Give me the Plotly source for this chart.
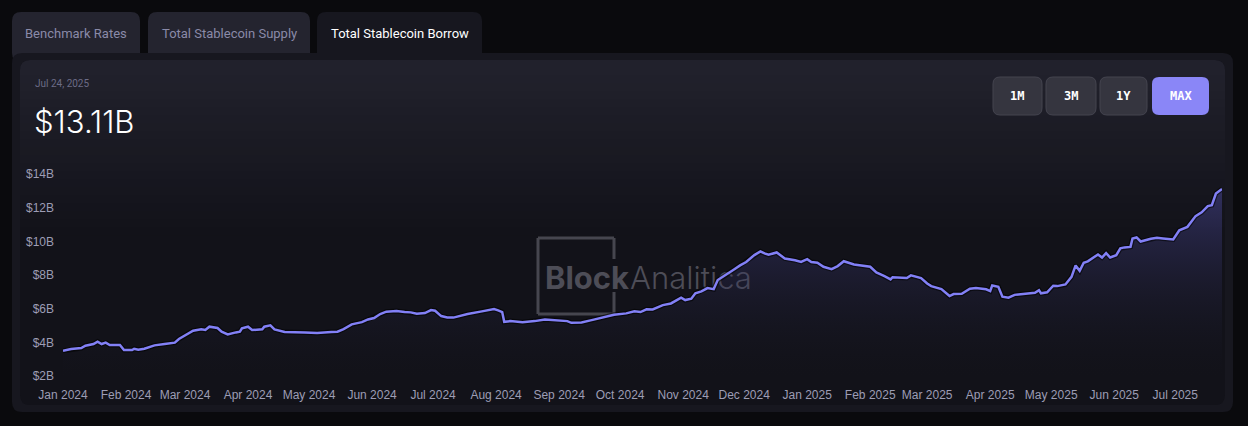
import plotly.graph_objects as go

# total stablecoin borrow, $ billions
dates = [
    "2024-01-01", "2024-01-05", "2024-01-10", "2024-01-12", "2024-01-16", "2024-01-18",
    "2024-01-20", "2024-01-22", "2024-01-24", "2024-01-29", "2024-01-31", "2024-02-04",
    "2024-02-05", "2024-02-07", "2024-02-10", "2024-02-15", "2024-02-20", "2024-02-25",
    "2024-02-27", "2024-03-01", "2024-03-05", "2024-03-09", "2024-03-11", "2024-03-13",
    "2024-03-17", "2024-03-19", "2024-03-22", "2024-03-26", "2024-03-28", "2024-03-29",
    "2024-04-01", "2024-04-03", "2024-04-08", "2024-04-09", "2024-04-12", "2024-04-14",
    "2024-04-16", "2024-04-19", "2024-04-29", "2024-05-05", "2024-05-12", "2024-05-15",
    "2024-05-18", "2024-05-22", "2024-05-27", "2024-05-30", "2024-06-02", "2024-06-05",
    "2024-06-08", "2024-06-13", "2024-06-17", "2024-06-20", "2024-06-23", "2024-06-27",
    "2024-06-30", "2024-07-02", "2024-07-05", "2024-07-08", "2024-07-11", "2024-07-18",
    "2024-07-25", "2024-07-28", "2024-07-31", "2024-08-02", "2024-08-04", "2024-08-05",
    "2024-08-08", "2024-08-14", "2024-08-20", "2024-08-25", "2024-08-30", "2024-09-05",
    "2024-09-07", "2024-09-12", "2024-09-17", "2024-09-22", "2024-09-28", "2024-10-04",
    "2024-10-08", "2024-10-11", "2024-10-14", "2024-10-17", "2024-10-22", "2024-10-26",
    "2024-10-31", "2024-11-02", "2024-11-05", "2024-11-07", "2024-11-10", "2024-11-13",
    "2024-11-16", "2024-11-18", "2024-11-22", "2024-11-26", "2024-11-29", "2024-12-02",
    "2024-12-06", "2024-12-09", "2024-12-11", "2024-12-13", "2024-12-17", "2024-12-21",
    "2024-12-26", "2024-12-29", "2025-01-01", "2025-01-03", "2025-01-06", "2025-01-09",
    "2025-01-13", "2025-01-16", "2025-01-19", "2025-01-22", "2025-01-24", "2025-02-01",
    "2025-02-04", "2025-02-08", "2025-02-11", "2025-02-12", "2025-02-19", "2025-02-21",
    "2025-02-26", "2025-03-01", "2025-03-03", "2025-03-08", "2025-03-12", "2025-03-14",
    "2025-03-18", "2025-03-22", "2025-03-25", "2025-03-30", "2025-04-01", "2025-04-02",
    "2025-04-05", "2025-04-07", "2025-04-10", "2025-04-13", "2025-04-18", "2025-04-23",
    "2025-04-25", "2025-04-26", "2025-04-29", "2025-05-02", "2025-05-04", "2025-05-08",
    "2025-05-11", "2025-05-13", "2025-05-15", "2025-05-17", "2025-05-19", "2025-05-21",
    "2025-05-24", "2025-05-26", "2025-05-28", "2025-05-30", "2025-06-02", "2025-06-04",
    "2025-06-06", "2025-06-09", "2025-06-10", "2025-06-12", "2025-06-14", "2025-06-19",
    "2025-06-22", "2025-06-25", "2025-06-30", "2025-07-03", "2025-07-07", "2025-07-11",
    "2025-07-14", "2025-07-17", "2025-07-19", "2025-07-21", "2025-07-24",
]
borrow_b = [
    3.50, 3.60, 3.66, 3.80, 3.90, 4.04,
    3.90, 3.98, 3.84, 3.84, 3.54, 3.54,
    3.62, 3.56, 3.62, 3.82, 3.90, 3.98,
    4.20, 4.43, 4.69, 4.77, 4.73, 4.93,
    4.85, 4.63, 4.47, 4.59, 4.63, 4.83,
    4.93, 4.73, 4.77, 4.93, 5.01, 4.77,
    4.69, 4.61, 4.59, 4.55, 4.61, 4.63,
    4.79, 5.07, 5.20, 5.36, 5.44, 5.68,
    5.82, 5.86, 5.80, 5.78, 5.70, 5.74,
    5.92, 5.88, 5.56, 5.48, 5.47, 5.68,
    5.84, 5.92, 5.98, 5.90, 5.80, 5.22,
    5.26, 5.20, 5.26, 5.36, 5.32, 5.26,
    5.16, 5.18, 5.32, 5.48, 5.64, 5.72,
    5.84, 5.80, 5.96, 5.95, 6.21, 6.31,
    6.65, 6.51, 6.59, 6.91, 7.03, 7.22,
    7.16, 7.70, 7.99, 8.33, 8.57, 8.77,
    9.18, 9.40, 9.28, 9.20, 9.34, 8.98,
    8.88, 8.78, 8.94, 8.77, 8.73, 8.49,
    8.35, 8.53, 8.82, 8.69, 8.62, 8.49,
    8.15, 7.93, 7.74, 7.87, 7.82, 7.98,
    7.82, 7.50, 7.34, 7.16, 6.75, 6.87,
    6.88, 7.18, 7.22, 7.15, 7.04, 7.38,
    7.30, 6.71, 6.65, 6.82, 6.87, 6.94,
    7.10, 6.91, 6.97, 7.36, 7.34, 7.44,
    7.89, 8.57, 8.25, 8.73, 8.81, 8.98,
    9.22, 9.04, 9.30, 9.04, 9.18, 9.58,
    9.64, 9.67, 10.17, 10.23, 9.99, 10.15,
    10.21, 10.17, 10.11, 10.66, 10.86, 11.50,
    11.72, 12.09, 12.15, 12.84, 13.11,
]

y_ticks = [2, 4, 6, 8, 10, 12, 14]
y_labels = ["$2B", "$4B", "$6B", "$8B", "$10B", "$12B", "$14B"]
tabs = ["Benchmark Rates", "Total Stablecoin Supply", "Total Stablecoin Borrow"]
range_buttons = ["1M", "3M", "1Y", "MAX"]
as_of = "Jul 24, 2025"

# page geometry in pixels; shapes/annotations are placed in paper units
W, H = 1248, 426
ML, MR, MT, MB = 63, 26, 174, 50
PW, PH = W - ML - MR, H - MT - MB


def px(x):
    return (x - ML) / PW


def py(y):
    return (H - MB - y) / PH


def rrect(x0, y0, x1, y1, r):
    return (f"M {px(x0 + r)},{py(y0)} L {px(x1 - r)},{py(y0)} "
            f"Q {px(x1)},{py(y0)} {px(x1)},{py(y0 + r)} L {px(x1)},{py(y1 - r)} "
            f"Q {px(x1)},{py(y1)} {px(x1 - r)},{py(y1)} L {px(x0 + r)},{py(y1)} "
            f"Q {px(x0)},{py(y1)} {px(x0)},{py(y1 - r)} L {px(x0)},{py(y0 + r)} "
            f"Q {px(x0)},{py(y0)} {px(x0 + r)},{py(y0)} Z")


def box(x0, y0, x1, y1, r, fill, line=None, layer="below"):
    return dict(type="path", path=rrect(x0, y0, x1, y1, r), xref="paper", yref="paper",
                fillcolor=fill, line=dict(color=line or fill, width=1 if line else 0),
                layer=layer)


def hex_mix(a, b, t):
    ca = [int(a[i:i + 2], 16) for i in (1, 3, 5)]
    cb = [int(b[i:i + 2], 16) for i in (1, 3, 5)]
    return "#" + "".join(f"{round(u + (v - u) * t):02x}" for u, v in zip(ca, cb))


PAGE = "#0a0a0d"
PANEL = "#17171f"
TAB_OFF = "#24242f"
CARD_TOP = "#21212c"
CARD_LOW = "#121219"
LINE = "#8280f6"
MUTED = "#8a8aa8"

shapes = []
# tabs
tab_x = [(12, 140), (148, 310), (317, 482)]
for i, (x0, x1) in enumerate(tab_x):
    shapes.append(box(x0, 12, x1, 62, 9, PANEL if i == 2 else TAB_OFF))
# outer panel
shapes.append(box(12, 53, 1233, 412, 10, PANEL))
# inner card with a soft top-down fade
shapes.append(box(20, 60, 1225, 405, 10, CARD_LOW))
shapes.append(box(20, 60, 1225, 90, 10, CARD_TOP))
steps = 20
for k in range(steps):
    y0 = 75 + k * 8
    shapes.append(dict(type="rect", xref="paper", yref="paper", x0=px(20), x1=px(1225),
                       y0=py(y0), y1=py(y0 + 8.5), fillcolor=hex_mix(CARD_TOP, CARD_LOW, (k + 1) / steps),
                       line=dict(width=0), layer="below"))

# range buttons
btn_x = [(993, 1042), (1046, 1096), (1100, 1147), (1152, 1209)]
for i, (x0, x1) in enumerate(btn_x):
    if range_buttons[i] == "MAX":
        shapes.append(box(x0, 77, x1, 115, 7, "#8a86f7", layer="above"))
    else:
        shapes.append(box(x0, 77, x1, 115, 7, "#35353f", "#44444f", layer="above"))

# watermark
WM = "#46464f"
for seg in [(538, 238, 614, 238), (538, 314, 614, 314), (538, 238, 538, 314),
            (614, 238, 614, 259), (614, 292, 614, 314)]:
    shapes.append(dict(type="line", xref="paper", yref="paper", x0=px(seg[0]), y0=py(seg[1]),
                       x1=px(seg[2]), y1=py(seg[3]), line=dict(color=WM, width=3), layer="below"))
shapes.append(dict(type="rect", xref="paper", yref="paper", x0=px(546), x1=px(628),
                   y0=py(292), y1=py(260), line=dict(width=0), layer="below",
                   label=dict(text="<b>Block</b>", textposition="middle center",
                              font=dict(family="Inter", size=31, color="#4d4d57"))))
shapes.append(dict(type="rect", xref="paper", yref="paper", x0=px(630), x1=px(752),
                   y0=py(292), y1=py(260), line=dict(width=0), layer="below",
                   label=dict(text="Analitica", textposition="middle center",
                              font=dict(family="Inter", size=31, color="#4d4d57", weight=300))))

annotations = []
tab_color = [MUTED, MUTED, "#ffffff"]
for i, (x0, x1) in enumerate(tab_x):
    annotations.append(dict(text=tabs[i], x=px((x0 + x1) / 2), y=py(33), xref="paper", yref="paper",
                            showarrow=False, xanchor="center", yanchor="middle",
                            font=dict(family="Roboto", size=13, color=tab_color[i])))
annotations.append(dict(text=as_of, x=px(33), y=py(83), xref="paper", yref="paper",
                        showarrow=False, xanchor="left", yanchor="middle",
                        font=dict(family="Roboto", size=10, color="#6c6c86")))
annotations.append(dict(text=f"${borrow_b[-1]:.2f}B", x=px(32), y=py(121), xref="paper", yref="paper",
                        showarrow=False, xanchor="left", yanchor="middle",
                        font=dict(family="Inter", size=31, color="#ffffff", weight=300)))
for i, (x0, x1) in enumerate(btn_x):
    annotations.append(dict(text=f"<b>{range_buttons[i]}</b>", x=px((x0 + x1) / 2), y=py(96),
                            xref="paper", yref="paper", showarrow=False,
                            xanchor="center", yanchor="middle",
                            font=dict(family="DejaVu Sans Mono", size=12, color="#ffffff")))

fig = go.Figure()
fig.add_trace(go.Scatter(
    x=dates, y=borrow_b, mode="lines",
    line=dict(color="rgba(0,0,0,0.55)", width=5),
    fill="tozeroy",
    fillgradient=dict(type="vertical", start=2, stop=13.2,
                      colorscale=[[0, "rgba(28,28,44,0.0)"], [1, "rgba(72,70,150,0.55)"]]),
    hoverinfo="skip", showlegend=False,
))
fig.add_trace(go.Scatter(
    x=dates, y=borrow_b, mode="lines",
    line=dict(color=LINE, width=2.5),
    hovertemplate="%{x|%b %d, %Y}<br>$%{y:.2f}B<extra></extra>",
    showlegend=False,
))

fig.update_layout(
    width=W, height=H,
    margin=dict(l=ML, r=MR, t=MT, b=MB),
    paper_bgcolor=PAGE,
    plot_bgcolor="rgba(0,0,0,0)",
    shapes=shapes,
    annotations=annotations,
    font=dict(family="Liberation Sans", size=12, color="#9d9db5"),
)
fig.update_xaxes(
    range=[dates[0], dates[-1]], type="date",
    tick0="2024-01-01", dtick="M1", tickformat="%b %Y",
    showgrid=False, zeroline=False, showline=False, ticks="",
    ticklabelstandoff=10,
    tickfont=dict(family="Liberation Sans", size=12, color="#9d9db5"),
)
fig.update_yaxes(
    range=[2, 14], tickvals=y_ticks, ticktext=y_labels,
    showgrid=False, zeroline=False, showline=False, ticks="",
    ticklabelstandoff=8,
    tickfont=dict(family="Liberation Sans", size=12, color="#9d9db5"),
)

# drop the browser's default body margin so the figure sits at the page origin
fig.write_html("out.html", config={"displayModeBar": False},
               post_script="document.body.style.margin='0';")
